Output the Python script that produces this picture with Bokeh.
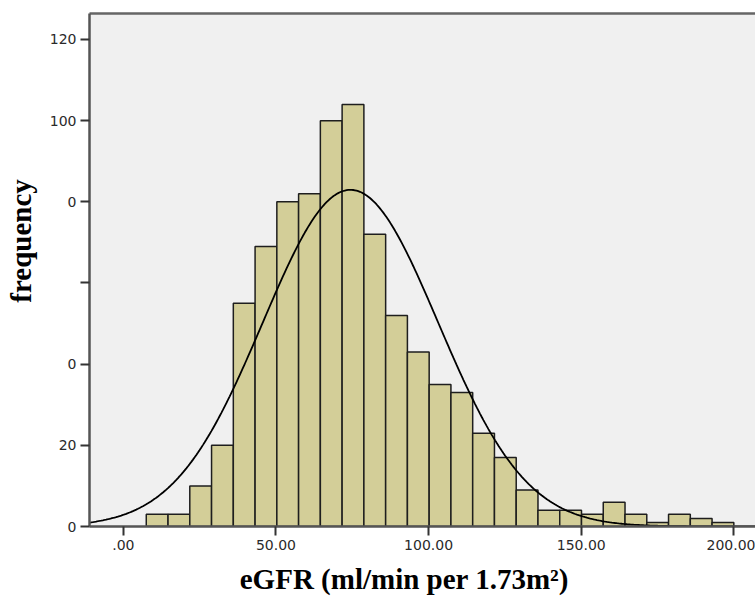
import numpy as np
from bokeh.plotting import figure
from bokeh.models import FixedTicker, LinearAxis, Range1d
from bokeh.embed import file_html
from bokeh.resources import INLINE

# Histogram data
bin_start = 7.5
bin_end = 200.0
counts = [3, 3, 10, 20, 55, 69, 80, 82, 100, 104, 72, 52, 43, 35, 33, 23, 17, 9,
          4, 4, 3, 6, 3, 1, 3, 2, 1]
# Fitted normal curve parameters
curve_mean = 74.4
curve_sd = 28.7

x_ticks = [0, 50, 100, 150, 200]
x_tick_labels = [".00", "50.00", "100.00", "150.00", "200.00"]
y_ticks = [0, 20, 40, 60, 80, 100, 120]
y_tick_labels = ["0", "20", "0", "", "0", "100", "120"]

nbins = len(counts)
edges = np.linspace(bin_start, bin_end, nbins + 1)
bw = edges[1] - edges[0]
n_total = sum(counts)

x0, x1 = -11.1, 207.1
p = figure(width=755, height=600, output_backend="svg", toolbar_location=None,
           x_range=Range1d(x0, x1), y_range=Range1d(0, 126.4),
           min_border_left=89, min_border_right=0, min_border_top=13,
           min_border_bottom=74)
p.background_fill_color = "#f0f0f0"
p.border_fill_color = "white"
p.outline_line_color = None
p.xgrid.visible = False
p.ygrid.visible = False

p.quad(left=edges[:-1], right=edges[1:], bottom=0, top=counts,
       fill_color="#d3ce98", line_color="#1e1e1e", line_width=1.5)

xs = np.linspace(x0, x1, 400)
ys = n_total * bw / (curve_sd * np.sqrt(2 * np.pi)) * np.exp(-0.5 * ((xs - curve_mean) / curve_sd) ** 2)
p.line(xs, ys, line_color="black", line_width=1.8)

for ax in (p.xaxis[0], p.yaxis[0]):
    ax.axis_line_color = "#555555"
    ax.axis_line_width = 2.5
    ax.major_tick_line_color = "#333333"
    ax.major_tick_line_width = 2
    ax.minor_tick_line_color = None
    ax.major_tick_in = 0
    ax.major_label_text_font = "DejaVu Sans"
    ax.major_label_text_font_size = "14px"
    ax.major_label_text_color = "#2a2a2a"
    ax.axis_label_text_font = "Liberation Serif"
    ax.axis_label_text_font_style = "bold"
    ax.axis_label_text_font_size = "29px"
    ax.axis_label_text_color = "black"

nb = "\u00a0"
p.xaxis.ticker = FixedTicker(ticks=x_ticks)
p.xaxis.major_label_overrides = {t: l for t, l in zip(x_ticks, x_tick_labels)}
p.xaxis.major_tick_out = 9
p.xaxis.major_label_standoff = 4
p.xaxis.axis_label = "eGFR (ml/min per 1.73m²)" + nb * 5
p.xaxis.axis_label_standoff = 10

p.yaxis.ticker = FixedTicker(ticks=y_ticks)
p.yaxis.major_label_overrides = {t: l for t, l in zip(y_ticks, y_tick_labels)}
p.yaxis.major_tick_out = 9
p.yaxis.major_label_standoff = 4
p.yaxis.axis_label = nb * 8 + "frequency"
p.yaxis.axis_label_standoff = 10

top_axis = LinearAxis(ticker=FixedTicker(ticks=[]), major_label_text_font_size="0px",
                      axis_line_color="#666666", axis_line_width=2.5,
                      major_tick_line_color=None, minor_tick_line_color=None)
p.add_layout(top_axis, "above")

open("out.html", "w").write(file_html(p, INLINE))
